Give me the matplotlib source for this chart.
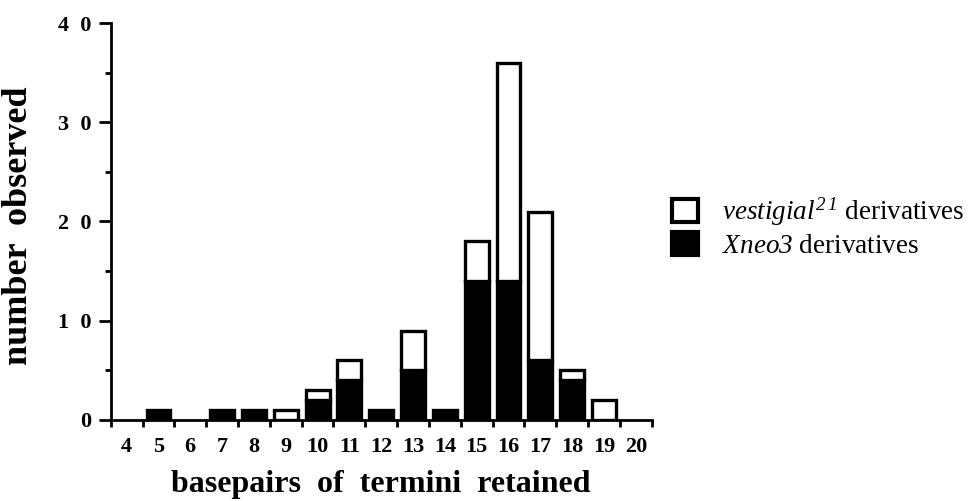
import numpy as np
import matplotlib
matplotlib.use("Agg")
import matplotlib.pyplot as plt
from matplotlib.patches import Patch

plt.rcParams["font.family"] = ["Liberation Serif", "DejaVu Serif"]
# mathtext only used for the legend labels: make everything italic there
plt.rcParams["mathtext.fontset"] = "custom"
plt.rcParams["mathtext.rm"] = "Liberation Serif:italic"
plt.rcParams["mathtext.it"] = "Liberation Serif:italic"

# --- data ---
basepairs = list(range(4, 21))
xneo3 = [0, 1, 0, 1, 1, 0, 2, 4, 1, 5, 1, 14, 14, 6, 4, 0, 0]
vestigial = [0, 0, 0, 0, 0, 1, 1, 2, 0, 4, 0, 4, 22, 15, 1, 2, 0]
ytick_vals = [0, 10, 20, 30, 40]
ytick_labels = ["0", "1  0", "2  0", "3  0", "4  0"]

x = np.array(basepairs)
xn = np.array(xneo3)
vg = np.array(vestigial)

fig = plt.figure(figsize=(9.8, 5.01), dpi=100)
ax = fig.add_axes([0.113, 0.162, 0.552, 0.792])

lw = 2.4
m = xn > 0
ax.bar(x[m], xn[m], width=0.75, color="black", edgecolor="black", linewidth=lw, zorder=3)
m = vg > 0
ax.bar(x[m], vg[m], width=0.75, bottom=xn[m], color="white", edgecolor="black", linewidth=lw, zorder=3)

ax.set_xlim(3.5, 20.5)
ax.set_ylim(0, 40)

for s in ["top", "right"]:
    ax.spines[s].set_visible(False)
for s in ["left", "bottom"]:
    ax.spines[s].set_linewidth(2.0)

ax.set_yticks(ytick_vals)
ax.set_yticklabels(ytick_labels, fontweight="bold", fontsize=16)
ax.set_yticks([5, 15, 25, 35], minor=True)
ax.tick_params(axis="y", which="major", direction="out", length=9, width=2.0, pad=5)
ax.tick_params(axis="y", which="minor", direction="out", length=4, width=2.0)

ax.set_xticks(basepairs)
ax.set_xticklabels([str(b) for b in basepairs], fontweight="bold", fontsize=16)
ax.set_xticks(np.arange(3.5, 21, 1.0), minor=True)
ax.tick_params(axis="x", which="major", length=0, pad=12)
ax.tick_params(axis="x", which="minor", direction="out", length=5, width=2.0)

ax.set_xlabel("basepairs  of  termini  retained", fontweight="bold", fontsize=23, labelpad=10)
ax.set_ylabel("number  observed", fontweight="bold", fontsize=26)
ax.yaxis.set_label_coords(-0.140, 0.49)

handles = [Patch(facecolor="white", edgecolor="black", linewidth=3),
           Patch(facecolor="black", edgecolor="black", linewidth=3)]
labels = [r"$vestigial^{2\,1}$ derivatives", r"$Xneo3$ derivatives"]
fig.legend(handles, labels, loc="upper left", bbox_to_anchor=(0.686, 0.609),
           frameon=False, fontsize=19.5, handlelength=0.95, handleheight=0.92,
           handletextpad=0.9, labelspacing=0.15, borderpad=0, borderaxespad=0)

fig.savefig("out.png", dpi=100)
